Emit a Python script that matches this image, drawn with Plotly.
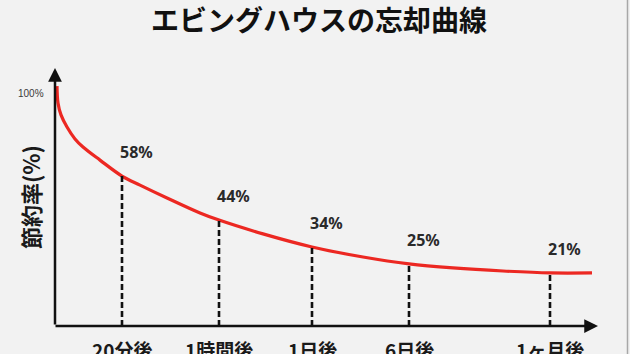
import plotly.graph_objects as go

# ---- data ----
title_text = "エビングハウスの忘却曲線"
y_title = "節約率(%)"
top_label = "100%"

# red forgetting curve: horizontal position (time axis units) and height in %
curve_x = [2, 3, 6, 12, 20, 28, 45, 67, 85, 112, 145, 164, 208, 257, 308, 354, 398, 448, 495, 537]
curve_pct = [100.8, 93.7, 88.7, 83.6, 78.6, 75.2, 69.7, 63.0, 59.2, 53.8, 47.5, 44.5,
             38.7, 33.2, 29.0, 26.1, 24.4, 23.1, 22.3, 22.3]

# marked time points
time_labels = ["20分後", "1時間後", "1日後", "6日後", "1ヶ月後"]
time_x = [67, 164, 257, 354, 495]
time_curve_pct = [63.0, 44.5, 33.2, 26.1, 22.3]
retention = [58, 44, 34, 25, 21]

# ---- layout constants ----
W, H = 630, 354
L, R, T, B = 55, 30, 68, 28
PX_PER_PCT = 2.38
plot_h = H - T - B
y_top = plot_h / PX_PER_PCT
x_end = W - L - R
BG = "#f2f2f2"


def px_x(px):
    return (px - L) / x_end


def px_y(py):
    return (H - B - py) / plot_h


fig = go.Figure()

# curve
fig.add_trace(go.Scatter(
    x=curve_x, y=curve_pct, mode="lines",
    line=dict(color="#ec2822", width=3.2, shape="spline", smoothing=1.0),
    hoverinfo="skip", showlegend=False, cliponaxis=False,
))

# dashed drop lines
dx, dy = [], []
for x, v in zip(time_x, time_curve_pct):
    dx += [x, x, None]
    dy += [0, v, None]
fig.add_trace(go.Scatter(
    x=dx, y=dy, mode="lines",
    line=dict(color="#111111", width=2.6, dash="6px,3px"),
    hoverinfo="skip", showlegend=False,
))

ann = []
# axes with arrowheads
ann.append(dict(x=0, y=y_top, ax=0, ay=0, xref="x", yref="y", axref="x", ayref="y",
                text="", showarrow=True, arrowhead=2, arrowsize=1.1, arrowwidth=2.5,
                arrowcolor="#111111", standoff=0, startstandoff=0))
ann.append(dict(x=x_end - 2, y=0, ax=-1, ay=0, xref="x", yref="y", axref="x", ayref="y",
                text="", showarrow=True, arrowhead=2, arrowsize=1.1, arrowwidth=2.5,
                arrowcolor="#111111", standoff=0, startstandoff=0))

# percentage labels
for x, v, r in zip(time_x, time_curve_pct, retention):
    ann.append(dict(x=x, y=v, xref="x", yref="y", text=f"{r}%", showarrow=False,
                    xanchor="left", yanchor="bottom", xshift=-4, yshift=11,
                    font=dict(family="Noto Sans, DejaVu Sans", size=16, color="#2a2a2a",
                              weight="bold")))

# time labels under the axis
for x, t in zip(time_x, time_labels):
    ann.append(dict(x=x, y=0, xref="x", yref="y", text=t, showarrow=False,
                    xanchor="center", yanchor="top", yshift=-8,
                    font=dict(family="Noto Sans CJK JP", size=19, color="#1a1a1a", weight="bold")))

# y title
ann.append(dict(x=px_x(30), y=px_y(197), xref="paper", yref="paper", text=y_title,
                textangle=-90, showarrow=False, xanchor="center", yanchor="middle",
                font=dict(family="Noto Sans CJK JP", size=22, color="#1a1a1a", weight="bold")))
# 100% label
ann.append(dict(x=px_x(31), y=px_y(94), xref="paper", yref="paper", text=top_label,
                showarrow=False, xanchor="center", yanchor="middle",
                font=dict(family="Liberation Sans Narrow, Liberation Sans", size=10,
                          color="#3a3a3a")))

fig.update_layout(
    width=W, height=H,
    margin=dict(l=L, r=R, t=T, b=B, pad=0),
    paper_bgcolor=BG, plot_bgcolor=BG,
    title=dict(text=title_text, x=319 / W, y=1 - 21 / H, xanchor="center", yanchor="middle",
               xref="container", yref="container",
               font=dict(family="Noto Sans CJK JP", size=28, color="#111111", weight="bold")),
    xaxis=dict(range=[0, x_end], visible=False, fixedrange=True),
    yaxis=dict(range=[0, y_top], visible=False, fixedrange=True),
    annotations=ann,
    shapes=[dict(type="line", xref="paper", yref="paper",
                 x0=px_x(627.5), x1=px_x(627.5),
                 y0=px_y(H + 5), y1=px_y(-5),
                 line=dict(color="#a8a8a8", width=1.5))],
    showlegend=False,
)

fig.write_html("out.html")
